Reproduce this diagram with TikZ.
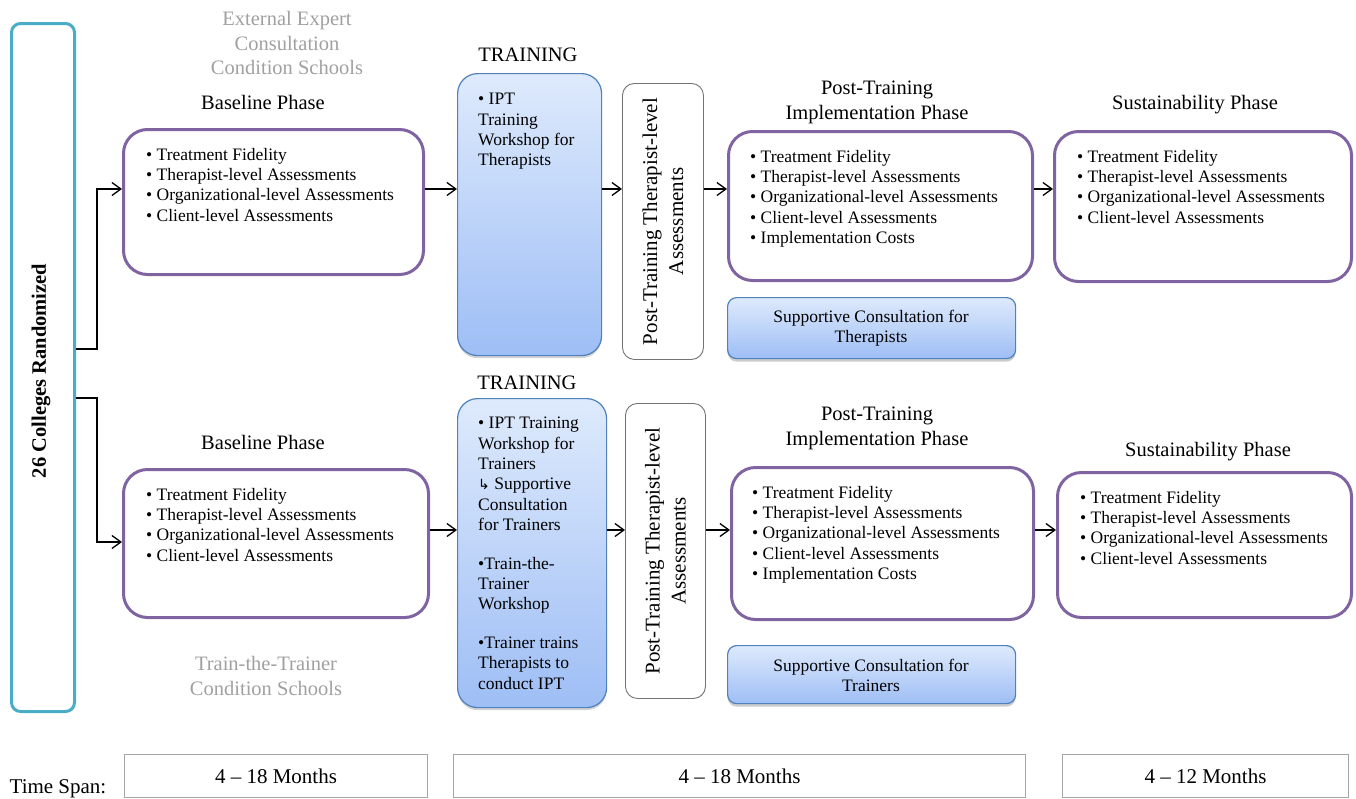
\documentclass[tikz,border=0pt]{standalone}
\usepackage{fontspec}
\setmainfont{Liberation Serif}
\newfontfamily\symfont{DejaVu Sans}
\usetikzlibrary{arrows.meta,shadows}
\definecolor{purp}{HTML}{8064A2}
\definecolor{cyanb}{HTML}{4BACC6}
\definecolor{blueb}{HTML}{4F81BD}
\definecolor{gtop}{RGB}{222,234,252}
\definecolor{gbot}{RGB}{158,190,245}
\definecolor{graytxt}{RGB}{160,160,160}
\definecolor{boxgray}{RGB}{165,165,165}
\begin{document}
\begin{tikzpicture}[x=1pt,y=-1pt,
  phase/.style={draw=purp, line width=3pt, rounded corners=24pt, fill=white, anchor=north west},
  trainbox/.style={draw=blueb, line width=1.2pt, rounded corners=20pt, top color=gtop, bottom color=gbot, anchor=north west,
     drop shadow={shadow xshift=0pt, shadow yshift=-2.5pt, opacity=0.35}},
  suppbox/.style={draw=blueb, line width=1.2pt, rounded corners=9pt, top color=gtop, bottom color=gbot, anchor=north west,
     drop shadow={shadow xshift=0pt, shadow yshift=-3pt, opacity=0.4}},
  ptbox/.style={draw=black!55, line width=0.9pt, rounded corners=12pt, fill=white, anchor=north west},
  spanbox/.style={draw=boxgray, line width=1pt, anchor=north west},
  body/.style={font=\fontsize{17.5}{20.3}\selectfont, align=left, inner sep=0pt, anchor=north west},
  trtext/.style={font=\fontsize{17.5}{20.4}\selectfont, align=left, inner sep=0pt, anchor=north west},
  title/.style={font=\fontsize{20.5}{24.5}\selectfont, align=center, inner sep=0pt},
  gtitle/.style={title, text=graytxt},
  rottext/.style={font=\fontsize{21}{26}\selectfont, align=center, inner sep=0pt, rotate=90},
  suptext/.style={font=\fontsize{17.5}{20.5}\selectfont, align=center, inner sep=0pt},
  spantext/.style={font=\fontsize{21}{24}\selectfont, inner sep=0pt},
  arr/.style={line width=1.3pt, -{Straight Barb[length=9pt,width=13pt,line width=1.3pt]}}
]
\useasboundingbox (0,0) rectangle (1356,798);

% left randomization box
\node[draw=cyanb, line width=3pt, rounded corners=9pt, anchor=north west, minimum width=63pt, minimum height=688pt] (cy) at (10,22) {};
\node[font=\bfseries\fontsize{20.5}{24}\selectfont, rotate=90, inner sep=0pt] (cyt) at (41,371) {26 Colleges Randomized};

% condition labels
\node[gtitle] (cond1) at (287,43) {External Expert\\Consultation\\Condition Schools};
\node[gtitle] (cond2) at (266,676) {Train-the-Trainer\\Condition Schools};

% ---------- top row ----------
\node[title] (tb1) at (263,102) {Baseline Phase};
\node[phase, minimum width=300pt, minimum height=145pt] (b1) at (122,128) {};
\node[body] (b1t) at (146,148) {• Treatment Fidelity\\• Therapist-level Assessments\\• Organizational-level Assessments\\• Client-level Assessments};

\node[title] (tt1) at (528,55) {TRAINING};
\node[trainbox, minimum width=144pt, minimum height=282pt] (t1) at (457,73) {};
\node[trtext] (t1t) at (478,93) {• IPT\\Training\\Workshop for\\Therapists};

\node[ptbox, minimum width=81pt, minimum height=276pt] (p1) at (622,83) {};
\node[rottext] (p1t) at (p1.center) {Post-Training Therapist-level\\Assessments};

\node[title] (ti1) at (877,102.5) {Post-Training\\Implementation Phase};
\node[phase, minimum width=304pt, minimum height=149pt] (i1) at (727,130) {};
\node[body] (i1t) at (750,150) {• Treatment Fidelity\\• Therapist-level Assessments\\• Organizational-level Assessments\\• Client-level Assessments\\• Implementation Costs};

\node[title] (ts1) at (1195,105) {Sustainability Phase};
\node[phase, minimum width=297pt, minimum height=150pt] (s1) at (1053,130) {};
\node[body] (s1t) at (1077,150) {• Treatment Fidelity\\• Therapist-level Assessments\\• Organizational-level Assessments\\• Client-level Assessments};

\node[suppbox, minimum width=288pt, minimum height=61pt] (c1) at (727,297) {};
\node[suptext] (c1t) at (871,328) {Supportive Consultation for\\Therapists};

% ---------- bottom row ----------
\node[title] (tb2) at (263,442) {Baseline Phase};
\node[phase, minimum width=305pt, minimum height=148pt] (b2) at (122,468) {};
\node[body] (b2t) at (146,488) {• Treatment Fidelity\\• Therapist-level Assessments\\• Organizational-level Assessments\\• Client-level Assessments};

\node[title] (tt2) at (527,383) {TRAINING};
\node[trainbox, minimum width=149pt, minimum height=309pt] (t2) at (457,398) {};
\node[trtext] (t2t) at (478,417) {• IPT Training\\Workshop for\\Trainers\\{\symfont\fontsize{14}{14}\selectfont ↳} Supportive\\Consultation\\for Trainers\\[18pt]•Train-the-\\Trainer\\Workshop\\[18pt]•Trainer trains\\Therapists to\\conduct IPT};

\node[ptbox, minimum width=80pt, minimum height=295pt] (p2) at (625,403) {};
\node[rottext] (p2t) at (p2.center) {Post-Training Therapist-level\\Assessments};

\node[title] (ti2) at (877,428.5) {Post-Training\\Implementation Phase};
\node[phase, minimum width=302pt, minimum height=152pt] (i2) at (730,466) {};
\node[body] (i2t) at (752,486) {• Treatment Fidelity\\• Therapist-level Assessments\\• Organizational-level Assessments\\• Client-level Assessments\\• Implementation Costs};

\node[title] (ts2) at (1208,452) {Sustainability Phase};
\node[phase, minimum width=294pt, minimum height=145pt] (s2) at (1056,471) {};
\node[body] (s2t) at (1080,491) {• Treatment Fidelity\\• Therapist-level Assessments\\• Organizational-level Assessments\\• Client-level Assessments};

\node[suppbox, minimum width=288pt, minimum height=58pt] (c2) at (727,645) {};
\node[suptext] (c2t) at (871,675.5) {Supportive Consultation for\\Trainers};

% ---------- connectors ----------
\coordinate (j1) at (97,189);
\coordinate (j2) at (97,542);
\draw[arr] (cy.east |- 0,349) -- (j1 |- 0,349) -- (j1) -- (b1.west |- j1);
\draw[arr] (cy.east |- 0,398) -- (j2 |- 0,398) -- (j2) -- (b2.west |- j2);

\coordinate (r1) at (0,189);
\draw[arr] (b1.east |- r1) -- (t1.west |- r1);
\draw[arr] (t1.east |- r1) -- (p1.west |- r1);
\draw[arr] (p1.east |- r1) -- (i1.west |- r1);
\draw[arr] (i1.east |- r1) -- (s1.west |- r1);

\coordinate (r2) at (0,530);
\draw[arr] (b2.east |- r2) -- (t2.west |- r2);
\draw[arr] (t2.east |- r2) -- (p2.west |- r2);
\draw[arr] (p2.east |- r2) -- (i2.west |- r2);
\draw[arr] (i2.east |- r2) -- (s2.west |- r2);

% ---------- time span ----------
\node[spantext, anchor=base] (tsl) at (58,793) {Time Span:};
\node[spanbox, minimum width=303pt, minimum height=43pt] (sp1) at (124,754) {};
\node[spantext] (sp1t) at (sp1.center) {4 – 18 Months};
\node[spanbox, minimum width=572pt, minimum height=43pt] (sp2) at (453,754) {};
\node[spantext] (sp2t) at (sp2.center) {4 – 18 Months};
\node[spanbox, minimum width=286pt, minimum height=43pt] (sp3) at (1062,754) {};
\node[spantext] (sp3t) at (sp3.center) {4 – 12 Months};
\end{tikzpicture}
\end{document}
